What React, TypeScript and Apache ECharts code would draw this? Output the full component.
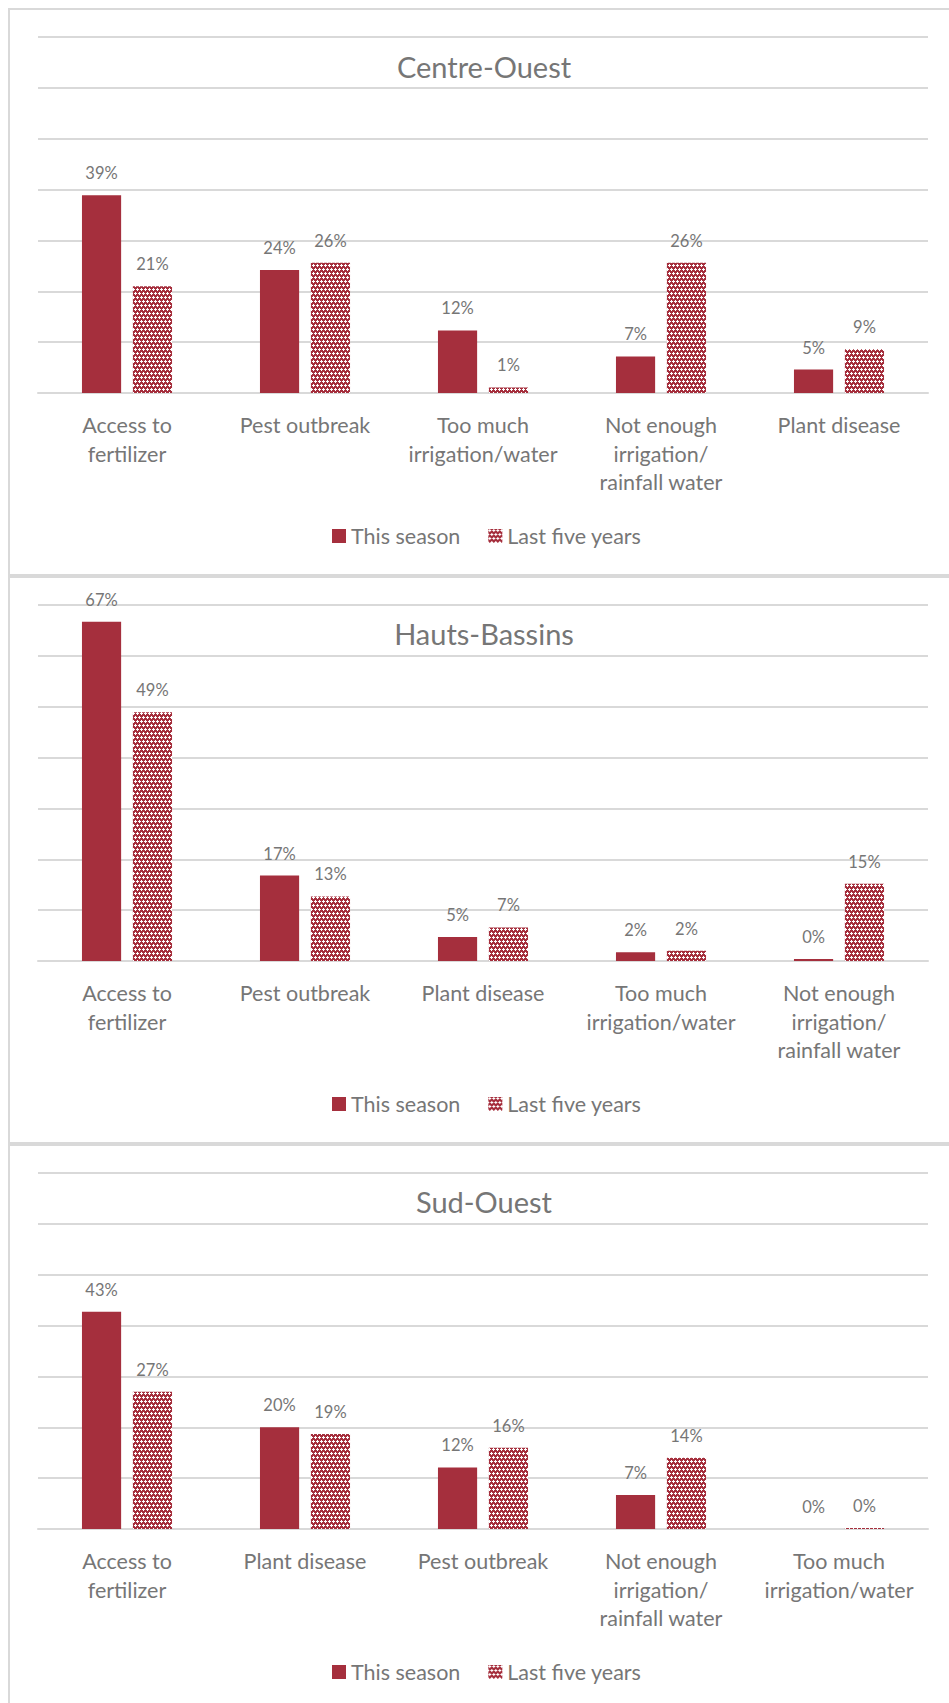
import React, { useEffect, useRef } from 'react';
import * as echarts from 'echarts';

// ---------- data ----------
const seriesNames = ['This season', 'Last five years'];
const yAxisMin = 0;
const yAxisMax = 0.7;
const yAxisInterval = 0.1;

const centreOuestTitle = 'Centre-Ouest';
const centreOuestCategories = [
  'Access to\nfertilizer',
  'Pest outbreak',
  'Too much\nirrigation/water',
  'Not enough\nirrigation/\nrainfall water',
  'Plant disease',
];
const centreOuestThisSeason = [0.389, 0.242, 0.123, 0.072, 0.046];
const centreOuestLastFiveYears = [0.21, 0.256, 0.011, 0.256, 0.086];

const hautsBassinsTitle = 'Hauts-Bassins';
const hautsBassinsCategories = [
  'Access to\nfertilizer',
  'Pest outbreak',
  'Plant disease',
  'Too much\nirrigation/water',
  'Not enough\nirrigation/\nrainfall water',
];
const hautsBassinsThisSeason = [0.667, 0.168, 0.047, 0.017, 0.004];
const hautsBassinsLastFiveYears = [0.489, 0.127, 0.066, 0.02, 0.152];

const sudOuestTitle = 'Sud-Ouest';
const sudOuestCategories = [
  'Access to\nfertilizer',
  'Plant disease',
  'Pest outbreak',
  'Not enough\nirrigation/\nrainfall water',
  'Too much\nirrigation/water',
];
const sudOuestThisSeason = [0.427, 0.2, 0.121, 0.067, 0];
const sudOuestLastFiveYears = [0.27, 0.187, 0.16, 0.14, 0.002];

// ---------- style ----------
const RED = '#A52F3D';
const TEXT = '#767676';
const GRID = '#d9d9d9';
const FONT = 'Lato, "Open Sans", sans-serif';

const PANEL_H = 568;

function makePattern(): HTMLCanvasElement {
  const c = document.createElement('canvas');
  c.width = 8;
  c.height = 8;
  const ctx = c.getContext('2d') as CanvasRenderingContext2D;
  ctx.fillStyle = RED;
  ctx.fillRect(0, 0, 8, 8);
  ctx.fillStyle = '#ffffff';
  for (let y = 0; y < 8; y++) {
    for (let x = 0; x < 8; x++) {
      const r = Math.floor(y / 4);
      const shift = r % 2 ? 2 : 0;
      const lx = (x + shift) % 4;
      const ly = y % 4;
      if ((lx === 1 && ly <= 2) || (ly === 1 && lx <= 2)) ctx.fillRect(x, y, 1, 1);
    }
  }
  return c;
}

type PanelProps = {
  title: string;
  titleTop: number;
  categories: string[];
  thisSeason: number[];
  lastFive: number[];
  top: number;
};

function Panel({ title, titleTop, categories, thisSeason, lastFive, top }: PanelProps) {
  const ref = useRef<HTMLDivElement>(null);
  useEffect(() => {
    if (!ref.current) return;
    const chart = echarts.init(ref.current, undefined, { renderer: 'svg' });
    const pattern = makePattern();
    const fmt = (p: any) => Math.round(p.value * 100) + '%';
    const labelStyle = {
      show: true,
      position: 'top' as const,
      distance: 13.5,
      formatter: fmt,
      fontSize: 16.5,
      lineHeight: 17,
      color: TEXT,
      fontFamily: FONT,
    };
    chart.setOption({
      animation: false,
      title: {
        text: title,
        left: 'center',
        top: titleTop,
        textStyle: { fontSize: 29, fontWeight: 'normal', color: TEXT, fontFamily: FONT, lineHeight: 30 },
      },
      legend: {
        data: seriesNames,
        left: 319,
        top: 512,
        icon: 'rect',
        itemWidth: 14,
        itemHeight: 14,
        itemGap: 28,
        textStyle: { fontSize: 21.5, color: TEXT, fontFamily: FONT, lineHeight: 22 },
      },
      grid: { left: 30, top: 29, width: 890, height: 356, containLabel: false },
      xAxis: {
        type: 'category',
        data: categories,
        axisTick: { show: false },
        axisLine: { show: true, lineStyle: { color: GRID, width: 2 } },
        axisLabel: {
          interval: 0,
          margin: 18,
          fontSize: 21.5,
          lineHeight: 28.5,
          color: TEXT,
          fontFamily: FONT,
          align: 'center',
        },
      },
      yAxis: {
        type: 'value',
        min: yAxisMin,
        max: yAxisMax,
        interval: yAxisInterval,
        axisLabel: { show: false },
        axisLine: { show: false },
        axisTick: { show: false },
        splitLine: { show: true, lineStyle: { color: GRID, width: 2 } },
      },
      series: [
        {
          name: seriesNames[0],
          type: 'bar',
          data: thisSeason,
          barWidth: '22%',
          barGap: '30%',
          itemStyle: { color: RED },
          label: labelStyle,
        },
        {
          name: seriesNames[1],
          type: 'bar',
          data: lastFive,
          barWidth: '22%',
          barGap: '30%',
          itemStyle: {
            color: { image: pattern, repeat: 'repeat', imageWidth: 8, imageHeight: 8 } as any,
          },
          label: labelStyle,
        },
      ],
    });
    return () => chart.dispose();
  }, []);
  return (
    <>
      <div
        style={{
          position: 'absolute',
          left: 8,
          top,
          width: 980,
          height: PANEL_H,
          border: '2px solid ' + GRID,
          boxSizing: 'border-box',
        }}
      />
      <div ref={ref} style={{ position: 'absolute', left: 8, top, width: 952, height: PANEL_H }} />
    </>
  );
}

export default function App() {
  return (
    <div
      style={{
        position: 'absolute',
        left: 0,
        top: 0,
        width: 949,
        height: 1703,
        overflow: 'hidden',
        background: '#ffffff',
      }}
    >
      <Panel
        title={centreOuestTitle}
        titleTop={38.5}
        categories={centreOuestCategories}
        thisSeason={centreOuestThisSeason}
        lastFive={centreOuestLastFiveYears}
        top={8}
      />
      <Panel
        title={hautsBassinsTitle}
        titleTop={37}
        categories={hautsBassinsCategories}
        thisSeason={hautsBassinsThisSeason}
        lastFive={hautsBassinsLastFiveYears}
        top={8 + PANEL_H}
      />
      <Panel
        title={sudOuestTitle}
        titleTop={37}
        categories={sudOuestCategories}
        thisSeason={sudOuestThisSeason}
        lastFive={sudOuestLastFiveYears}
        top={8 + PANEL_H * 2}
      />
    </div>
  );
}
